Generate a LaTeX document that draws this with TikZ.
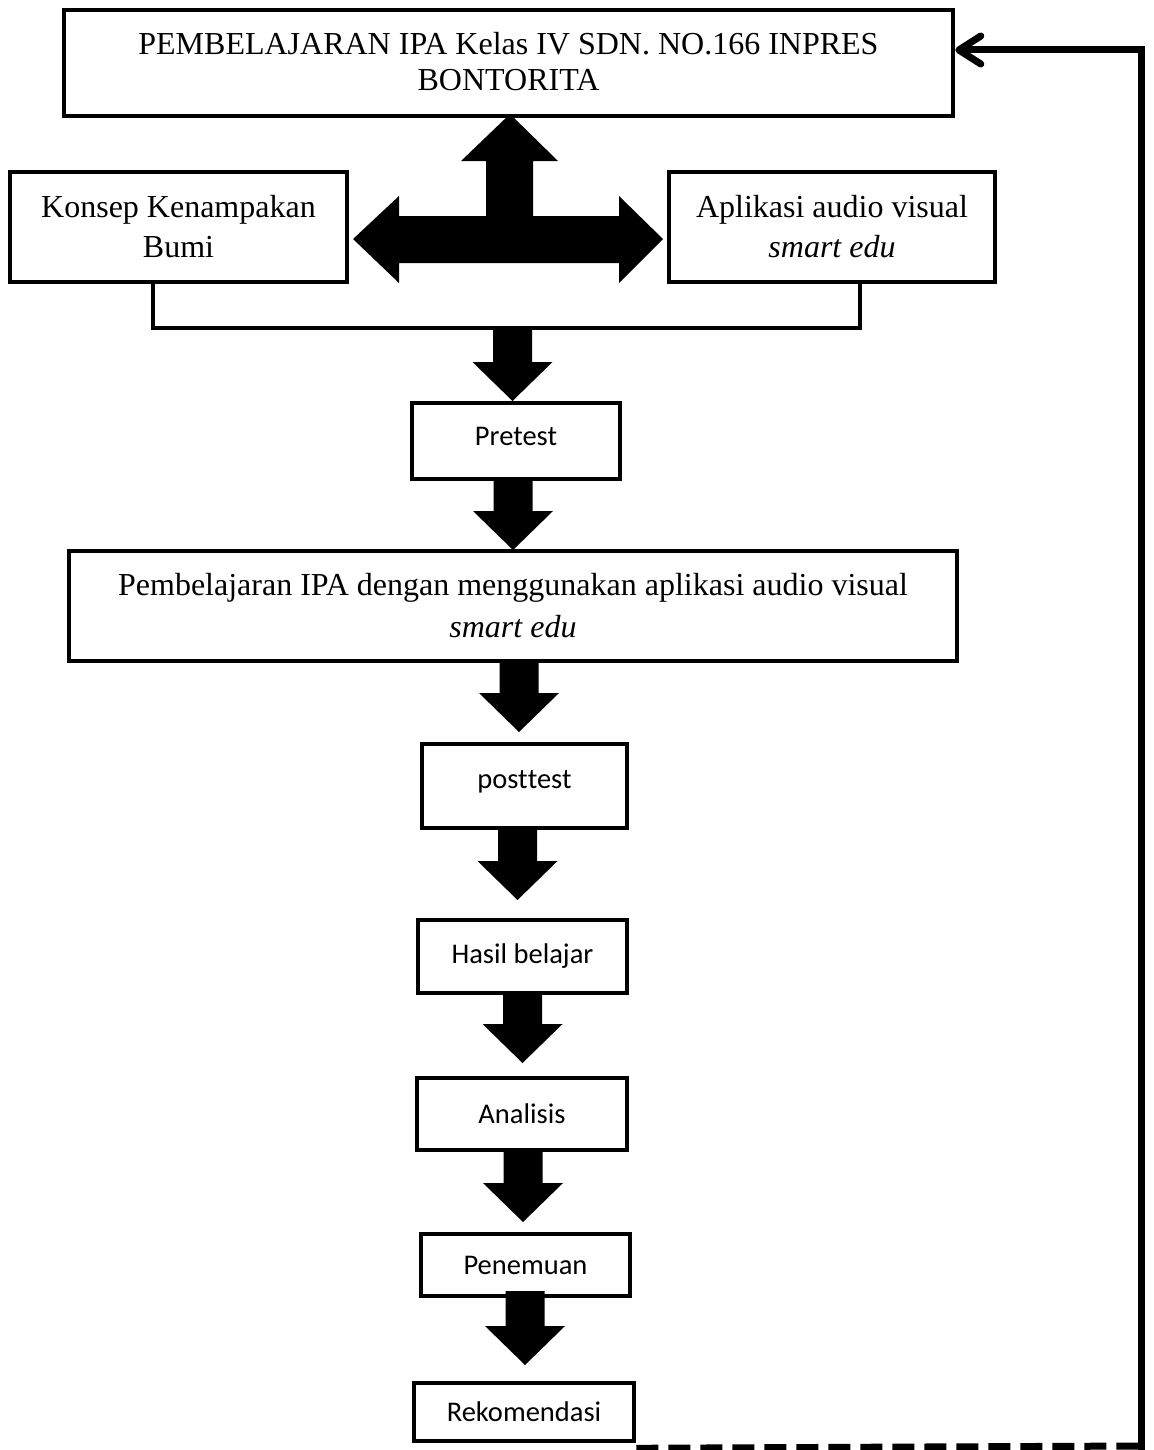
\documentclass[tikz,border=0pt]{standalone}
\usepackage{fontspec}
\setmainfont{Liberation Serif}
\newfontfamily\calibfont[Ligatures=NoCommon]{Carlito}
\usetikzlibrary{calc,arrows.meta}
\newcommand\blockarr[2]{\fill let \p1=(#1),\p2=(#2) in
  (\x2-9.75pt,\y1) -- (\x2-9.75pt,\y2+19.5pt) -- (\x2-20pt,\y2+19.5pt) -- (\x2,\y2)
  -- (\x2+20pt,\y2+19.5pt) -- (\x2+9.75pt,\y2+19.5pt) -- (\x2+9.75pt,\y1) -- cycle;}
\begin{document}
\begin{tikzpicture}[x=0.5pt,y=-0.5pt,
  box/.style={draw, line width=2.3pt, inner sep=0pt, align=center, font=\fontsize{16}{18}\selectfont},
  sidebox/.style={box, font=\fontsize{16}{20}\selectfont},
  sbox/.style={draw, line width=2.3pt, inner sep=0pt, align=center, font=\calibfont\fontsize{14.25}{17}\selectfont},
  connline/.style={line width=2.2pt},
  feed/.style={line width=3.5pt},
]
\useasboundingbox (0,0) rectangle (1153,1450);

% boxes
\node[box, minimum width=444.5pt, minimum height=53pt, text depth=2pt] (top) at (508.5,63)
  {PEMBELAJARAN IPA Kelas IV SDN. NO.166 INPRES\\BONTORITA};
\node[sidebox, minimum width=168.5pt, minimum height=55pt] (konsep) at (178.5,227)
  {Konsep Kenampakan\\Bumi};
\node[sidebox, minimum width=163pt, minimum height=55pt] (aplikasi) at (832,227)
  {Aplikasi audio visual\\\textit{smart edu}};
\node[sbox, minimum width=104pt, minimum height=38pt, text depth=5pt] (pretest) at (516,441) {Pretest};
\node[box, font=\fontsize{16}{21}\selectfont, minimum width=444pt, minimum height=55pt] (big) at (513,606)
  {Pembelajaran IPA dengan menggunakan aplikasi audio visual\\\textit{smart edu}};
\node[sbox, minimum width=102.5pt, minimum height=42pt, text depth=7pt] (posttest) at (524.5,786) {post\kern0pt test};
\node[sbox, minimum width=104.5pt, minimum height=36.5pt] (hasil) at (522.5,956.5) {Hasil belajar};
\node[sbox, minimum width=105pt, minimum height=36pt] (analisis) at (522,1114) {Analisis};
\node[sbox, minimum width=104.5pt, minimum height=31pt] (penemuan) at (525.5,1265) {Penemuan};
\node[sbox, minimum width=110pt, minimum height=29pt] (rek) at (524,1412) {Rekomendasi};

% bracket joining the two side boxes
\coordinate (bl) at (153,328);
\coordinate (br) at (860,328);
\draw[connline] (konsep.south -| bl) -- (bl) -- (br) -- (aplikasi.south -| br);

% T-shaped block arrow
\fill (510,114) -- (558,161) -- (533,161) -- (533,216) -- (619,216) -- (619,196)
  -- (663,239) -- (619,283) -- (619,263) -- (399,263) -- (399,283) -- (353,239)
  -- (399,196) -- (399,216) -- (486,216) -- (486,161) -- (461,161) -- cycle;

% down block arrows
\coordinate (a0s) at (512.5,328);  \coordinate (a0t) at (512.5,401);
\coordinate (a1s) at (513,479);    \coordinate (a1t) at (513,550);
\coordinate (a2s) at (519,661);    \coordinate (a2t) at (519,732);
\coordinate (a3s) at (517.5,828);  \coordinate (a3t) at (517.5,900);
\coordinate (a4s) at (522.5,991);  \coordinate (a4t) at (522.5,1063);
\coordinate (a5s) at (523,1150);   \coordinate (a5t) at (523,1222);
\coordinate (a6s) at (525,1291);   \coordinate (a6t) at (525,1365);
\blockarr{a0s}{a0t}
\blockarr{a1s}{a1t}
\blockarr{a2s}{a2t}
\blockarr{a3s}{a3t}
\blockarr{a4s}{a4t}
\blockarr{a5s}{a5t}
\blockarr{a6s}{a6t}

% feedback loop
\coordinate (fbl) at ($(rek.south east)+(0,5)$);
\coordinate (fbr) at (1141,1446);
\coordinate (fbt) at (1141,50);
\draw[feed, dash pattern=on 11pt off 5pt] (fbl) -- (fbr);
\draw[feed, -{Straight Barb[length=11pt,width=14pt,round]}]
  ($(fbr)+(0,3.5)$) -- (fbt) -- ($(top.east)+(0,-13)$);
\end{tikzpicture}
\end{document}
